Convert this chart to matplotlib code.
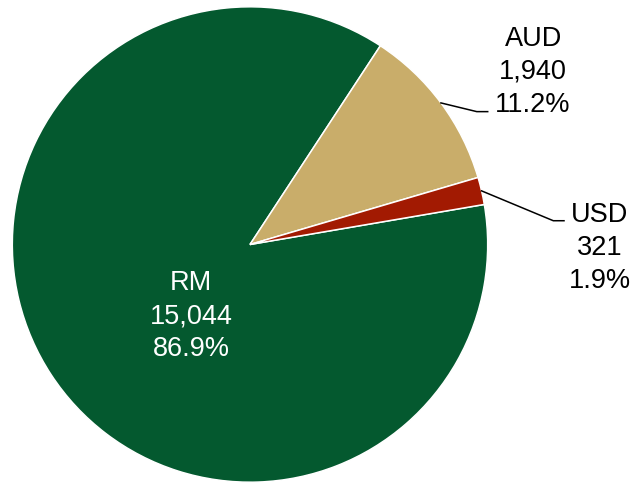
import numpy as np
import matplotlib
matplotlib.use("Agg")
import matplotlib.pyplot as plt

plt.rcParams["font.family"] = ["Liberation Sans", "DejaVu Sans"]

# Data
currencies = ["RM", "AUD", "USD"]
amounts = [15044, 1940, 321]

colors = ["#04592F", "#C9AD6A", "#A21A02"]
text_colors = ["white", "black", "black"]

# Label anchors (data coords, last-line baseline) and leader elbows
label_pos = [(-0.248, -0.465), (1.191, 0.563), (1.472, -0.179)]
leader_elbow = [None, (0.954, 0.559), (1.276, 0.100)]
leader_end = [None, (1.000, 0.559), (1.321, 0.100)]

W, H = 635, 485
cx, cy, r = 250.0, 245.5, 237.7

fig = plt.figure(figsize=(W / 100, H / 100), dpi=100)
ax = fig.add_axes([(cx - r) / W, (H - cy - r) / H, 2 * r / W, 2 * r / H])

wedges, _ = ax.pie(
    amounts,
    colors=colors,
    startangle=9.7,
    counterclock=False,
    radius=1.0,
    wedgeprops=dict(edgecolor="white", linewidth=1.1),
)
ax.set_xlim(-1, 1)
ax.set_ylim(-1, 1)
ax.set_aspect("auto")
ax.axis("off")

total = sum(amounts)
for i, (name, val) in enumerate(zip(currencies, amounts)):
    pct = val / total * 100
    label = f"{name}\n{val:,}\n{pct:.1f}%"
    x, y = label_pos[i]
    ax.text(x, y, label, ha="center", va="baseline", multialignment="center",
            fontsize=19.5, color=text_colors[i], linespacing=1.35, clip_on=False)
    if leader_elbow[i] is not None:
        w = wedges[i]
        mid = np.deg2rad((w.theta1 + w.theta2) / 2)
        sx, sy = np.cos(mid), np.sin(mid)
        ex, ey = leader_elbow[i]
        fx, fy = leader_end[i]
        ax.plot([sx, ex, fx], [sy, ey, fy], color="black", lw=1.1,
                solid_joinstyle="miter", clip_on=False)

fig.savefig("out.png", dpi=100, facecolor="white")
